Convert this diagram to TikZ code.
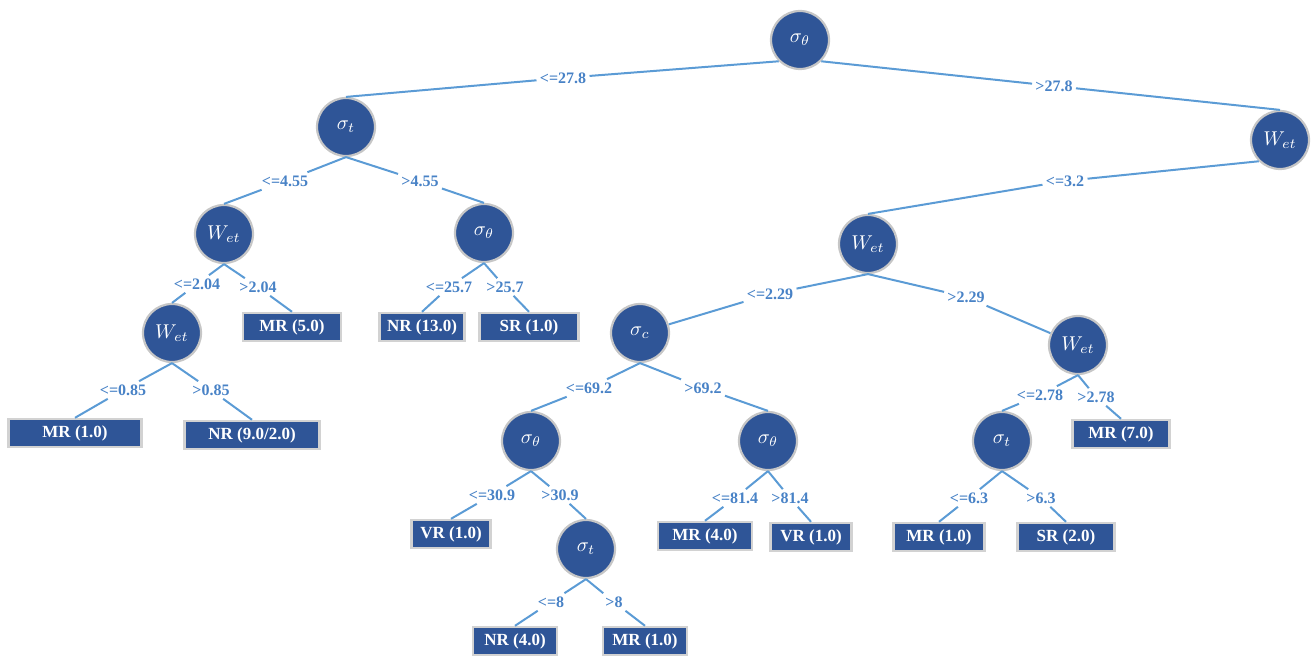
\documentclass[tikz,border=0pt]{standalone}
\usepackage{fontspec}
\setmainfont{Liberation Serif}
\definecolor{treeblue}{RGB}{47,85,151}
\definecolor{edgeblue}{RGB}{91,155,213}
\definecolor{labelblue}{RGB}{72,130,198}
\begin{document}
\begin{tikzpicture}[x=0.5pt,y=-0.5pt,
  attr/.style={circle,fill=treeblue,draw=gray!45,line width=1.1pt,minimum size=29pt,inner sep=0pt,text=white,font=\fontsize{10}{11}\selectfont},
  leaf/.style={rectangle,fill=treeblue,draw=gray!35,line width=1.2pt,minimum height=14pt,inner sep=1pt,text=white,font=\fontsize{8.5}{10}\selectfont\bfseries},
  cond/.style={text=labelblue,font=\fontsize{8}{9}\selectfont\bfseries,inner sep=1.5pt},
  branch/.style={draw=edgeblue,line width=1pt}]
\useasboundingbox (0,0) rectangle (1316,657);
% attribute nodes
\node[attr] (root) at (800,40) {$\sigma_\theta$};
\node[attr] (st) at (346,127) {$\sigma_t$};
\node[attr] (wetr) at (1280,140) {$W_{et}$};
\node[attr] (wetl) at (224,234) {$W_{et}$};
\node[attr] (thl) at (484,233) {$\sigma_\theta$};
\node[attr] (wetll) at (172,333) {$W_{et}$};
\node[attr] (wetm) at (868,244) {$W_{et}$};
\node[attr] (sc) at (640,333) {$\sigma_c$};
\node[attr] (wetrr) at (1078,345) {$W_{et}$};
\node[attr] (thm) at (531,441) {$\sigma_\theta$};
\node[attr] (thn) at (768,441) {$\sigma_\theta$};
\node[attr] (str) at (1002,441) {$\sigma_t$};
\node[attr] (stm) at (586,549) {$\sigma_t$};
% leaves
\node[leaf,minimum width=49pt] (mr5) at (292,327) {MR (5.0)};
\node[leaf,minimum width=42.5pt] (nr13) at (422,327) {NR (13.0)};
\node[leaf,minimum width=49.5pt] (sr1) at (529,327) {SR (1.0)};
\node[leaf,minimum width=66.5pt] (mr1a) at (75,433) {MR (1.0)};
\node[leaf,minimum width=67.5pt] (nr9) at (252,435) {NR (9.0/2.0)};
\node[leaf,minimum width=48.5pt] (mr7) at (1121,434) {MR (7.0)};
\node[leaf,minimum width=39.5pt] (vr1a) at (451,534) {VR (1.0)};
\node[leaf,minimum width=47pt] (mr4) at (705,536) {MR (4.0)};
\node[leaf,minimum width=40.5pt] (vr1b) at (811,537) {VR (1.0)};
\node[leaf,minimum width=45.5pt] (mr1b) at (939,537) {MR (1.0)};
\node[leaf,minimum width=48.5pt] (sr2) at (1066,537) {SR (2.0)};
\node[leaf,minimum width=42pt] (nr4) at (515,641) {NR (4.0)};
\node[leaf,minimum width=42pt] (mr1c) at (645,641) {MR (1.0)};
% split labels
\node[cond] (le278) at (563,78) {<=27.8};
\node[cond] (gt278) at (1054,86) {>27.8};
\node[cond] (le455) at (285,181) {<=4.55};
\node[cond] (gt455) at (420,181) {>4.55};
\node[cond] (le204) at (197,284) {<=2.04};
\node[cond] (gt204) at (258,287) {>2.04};
\node[cond] (le257) at (449,287) {<=25.7};
\node[cond] (gt257) at (505,287) {>25.7};
\node[cond] (le085) at (123,390) {<=0.85};
\node[cond] (gt085) at (211,390) {>0.85};
\node[cond] (le32) at (1065,181) {<=3.2};
\node[cond] (le229) at (770,294) {<=2.29};
\node[cond] (gt229) at (966,297) {>2.29};
\node[cond] (le692) at (589,388) {<=69.2};
\node[cond] (gt692) at (703,388) {>69.2};
\node[cond] (le278b) at (1040,395) {<=2.78};
\node[cond] (gt278b) at (1096,397) {>2.78};
\node[cond] (le309) at (492,495) {<=30.9};
\node[cond] (gt309) at (560,495) {>30.9};
\node[cond] (le814) at (735,498) {<=81.4};
\node[cond] (gt814) at (790,498) {>81.4};
\node[cond] (le63) at (969,498) {<=6.3};
\node[cond] (gt63) at (1041,498) {>6.3};
\node[cond] (le8) at (551,602) {<=8};
\node[cond] (gt8) at (614,602) {>8};
% branches
\draw[branch] (root.south west) -- (le278) -- (st.north);
\draw[branch] (root.south east) -- (gt278) -- (wetr.north);
\draw[branch] (wetr.south west) -- (le32) -- (wetm.north);
\draw[branch] (wetm.south) -- (le229) -- (sc);
\draw[branch] (wetm.south) -- (gt229) -- (wetrr);
\foreach \p/\c/\k in {st/le455/wetl,st/gt455/thl,wetl/le204/wetll,wetl/gt204/mr5,
  thl/le257/nr13,thl/gt257/sr1,wetll/le085/mr1a,wetll/gt085/nr9,
  sc/le692/thm,sc/gt692/thn,wetrr/le278b/str,wetrr/gt278b/mr7,
  thm/le309/vr1a,thm/gt309/stm,thn/le814/mr4,thn/gt814/vr1b,
  str/le63/mr1b,str/gt63/sr2,stm/le8/nr4,stm/gt8/mr1c}
  \draw[branch] (\p.south) -- (\c) -- (\k.north);
\end{tikzpicture}
\end{document}
